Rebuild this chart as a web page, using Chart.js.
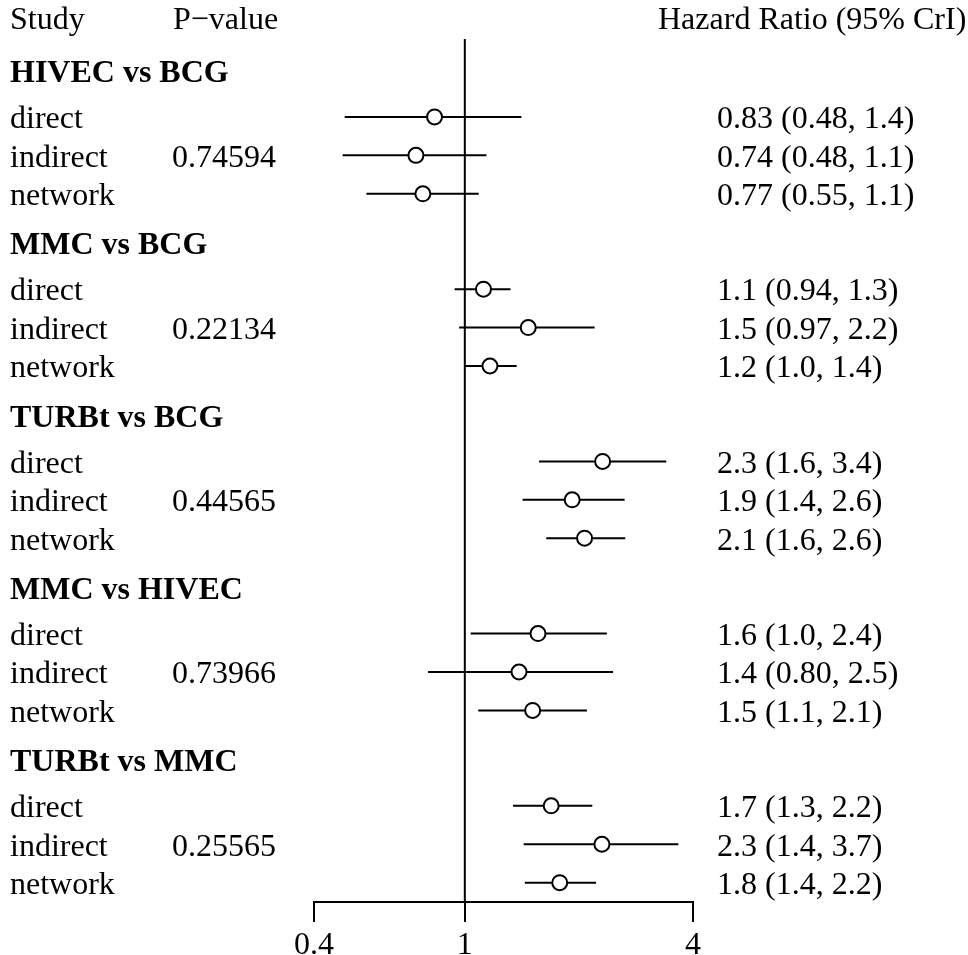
<!DOCTYPE html>
<html><head><meta charset="utf-8">
<script src="https://cdn.jsdelivr.net/npm/chart.js@4"></script>
<style>html,body{margin:0;padding:0;background:#fff}#wrap{width:968px;height:955px;position:relative}</style>
</head><body><div id="wrap"><canvas id="c"></canvas></div>
<script>
// ---- data ----
const groups = ['HIVEC vs BCG', 'MMC vs BCG', 'TURBt vs BCG', 'MMC vs HIVEC', 'TURBt vs MMC'];
const rowTypes = ['direct', 'indirect', 'network'];
const pValues = ['0.74594', '0.22134', '0.44565', '0.73966', '0.25565'];
const hrMean  = [0.832, 0.743, 0.775,  1.12, 1.47, 1.165,  2.31, 1.92, 2.07,  1.56, 1.39, 1.51,  1.69, 2.30, 1.78];
const hrLower = [0.482, 0.476, 0.550,  0.94, 0.966, 0.995, 1.57, 1.42, 1.64,  1.036, 0.80, 1.085, 1.34, 1.43, 1.44];
const hrUpper = [1.41, 1.14, 1.088,  1.32, 2.20, 1.37,  3.40, 2.64, 2.65,  2.37, 2.46, 2.10,  2.17, 3.66, 2.22];
const hrLabels = ['0.83 (0.48, 1.4)', '0.74 (0.48, 1.1)', '0.77 (0.55, 1.1)',
                  '1.1 (0.94, 1.3)', '1.5 (0.97, 2.2)', '1.2 (1.0, 1.4)',
                  '2.3 (1.6, 3.4)', '1.9 (1.4, 2.6)', '2.1 (1.6, 2.6)',
                  '1.6 (1.0, 2.4)', '1.4 (0.80, 2.5)', '1.5 (1.1, 2.1)',
                  '1.7 (1.3, 2.2)', '2.3 (1.4, 3.7)', '1.8 (1.4, 2.2)'];
const xTicks = [0.4, 1, 4];
const xTickLabels = ['0.4', '1', '4'];
const refValue = 1;

// ---- layout (row units) ----
const Y_MAX = 22.47, FIRST_ROW = 2.03, GROUP_STRIDE = 4.484, HEADER_GAP = 1.2;
function rowY(g, k) { return FIRST_ROW + g * GROUP_STRIDE + k; }

const FONT = '"Liberation Serif", "Times New Roman", serif';

const ciDatasets = [];
const points = [];
groups.forEach((gname, g) => {
  rowTypes.forEach((t, k) => {
    const i = g * 3 + k;
    ciDatasets.push({
      data: [{x: hrLower[i], y: rowY(g, k)}, {x: hrUpper[i], y: rowY(g, k)}],
      showLine: true, borderColor: '#000', borderWidth: 2, pointRadius: 0, order: 5
    });
    points.push({x: hrMean[i], y: rowY(g, k)});
  });
});

const textPlugin = {
  id: 'forestText',
  afterDraw(chart) {
    const ctx = chart.ctx;
    const ys = chart.scales.y;
    ctx.save();
    ctx.fillStyle = '#000';
    ctx.textBaseline = 'alphabetic';
    ctx.textAlign = 'left';
    ctx.font = '32px ' + FONT;
    const headBase = ys.getPixelForValue(0) - 10.5;
    ctx.fillText('Study', 10, headBase);
    ctx.fillText('P\u2212value', 173, headBase);
    ctx.fillText('Hazard Ratio (95% CrI)', 658, headBase);
    groups.forEach((gname, g) => {
      ctx.font = 'bold 32px ' + FONT;
      ctx.fillText(gname, 10, ys.getPixelForValue(rowY(g, 0) - HEADER_GAP) + 11.3);
      ctx.font = '32px ' + FONT;
      rowTypes.forEach((t, k) => {
        const i = g * 3 + k;
        const base = ys.getPixelForValue(rowY(g, k)) + 11.3;
        ctx.fillText(t, 10, base);
        if (k === 1) ctx.fillText(pValues[g], 172, base);
        ctx.fillText(hrLabels[i], 717, base);
      });
    });
    ctx.restore();
  }
};

new Chart(document.getElementById('c'), {
  type: 'scatter',
  data: {
    datasets: [
      { data: [{x: refValue, y: 0}, {x: refValue, y: Y_MAX}], showLine: true, borderColor: '#000', borderWidth: 2, pointRadius: 0, order: 10 },
      ...ciDatasets,
      { data: points, pointRadius: 7.5, pointBackgroundColor: '#fff', pointBorderColor: '#000', pointBorderWidth: 2, order: 0 }
    ]
  },
  options: {
    responsive: true,
    maintainAspectRatio: false,
    animation: false,
    layout: { padding: { top: 39, left: 314, right: 275, bottom: 0 } },
    plugins: { legend: { display: false }, tooltip: { enabled: false } },
    scales: {
      x: {
        type: 'logarithmic', min: 0.4, max: 4,
        afterBuildTicks(s) { s.ticks = xTicks.map(v => ({ value: v })); },
        afterFit(s) { s.height = 53; },
        grid: { drawOnChartArea: false, drawTicks: true, tickLength: 20, color: '#000', lineWidth: 2 },
        border: { display: true, color: '#000', width: 2 },
        ticks: {
          autoSkip: false, maxRotation: 0, padding: 8, color: '#000',
          font: { family: FONT, size: 32, lineHeight: 1 },
          callback(v) { const i = xTicks.indexOf(v); return i >= 0 ? xTickLabels[i] : ''; }
        }
      },
      y: { type: 'linear', reverse: true, min: 0, max: Y_MAX, display: false }
    }
  },
  plugins: [textPlugin]
});
</script>
</body></html>
